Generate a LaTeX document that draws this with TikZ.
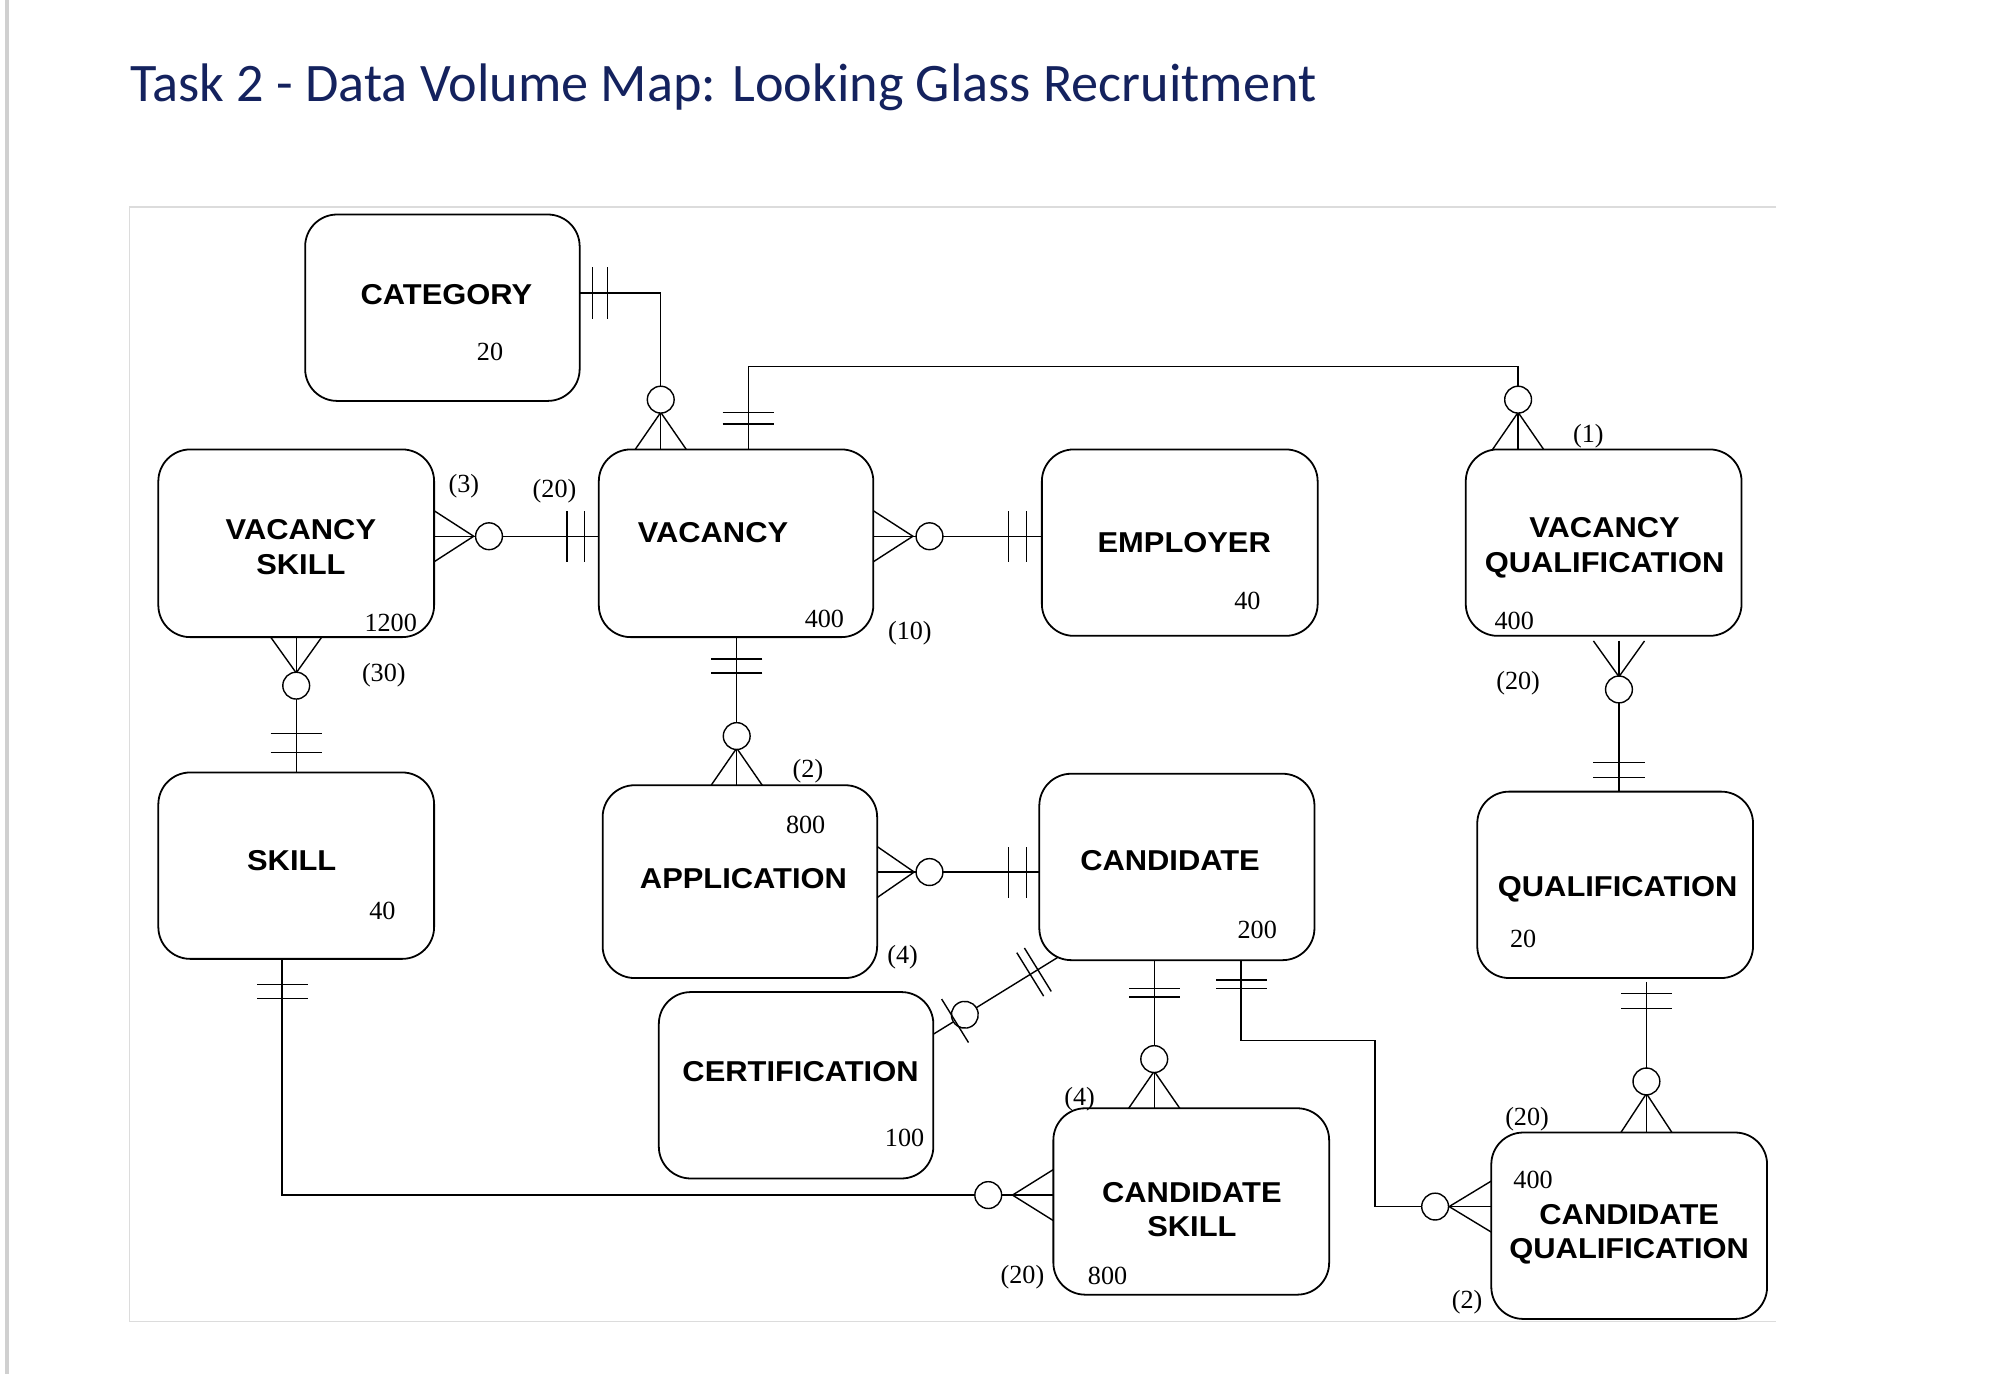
\documentclass[tikz,border=0pt]{standalone}
\usepackage{fontspec}
\setmainfont{Liberation Serif}
\newfontfamily\entfont{Liberation Sans}[FakeStretch=1.075]
\newfontfamily\titlefont{Carlito}
\usetikzlibrary{calc}
\definecolor{titleblue}{HTML}{14225E}
\definecolor{framegray}{HTML}{DCDCDC}
\definecolor{edgegray}{HTML}{D0D0D0}
\tikzset{
  ent/.style={draw, rounded corners=25pt, line width=1.4pt, minimum width=216pt, minimum height=146pt, inner sep=0pt, outer sep=0pt, anchor=north west},
  enttext/.style={font=\entfont\bfseries\fontsize{22.5}{27}\selectfont, inner sep=0pt, anchor=base},
  vol/.style={font=\fontsize{20.5}{24}\selectfont, inner sep=0pt},
  conn/.style={line width=1.1pt},
  pics/crowO/.style 2 args={code={
    \draw[conn] (0,-20) -- (#1,0) -- (0,20);
    \draw[conn] (0,0) -- (#2,0);
    \draw[conn,fill=white] (#2,0) circle[radius=10.5];}},
  pics/bar/.style={code={\draw[conn] (#1,-20) -- (#1,20);}},
  pics/circ/.style={code={\draw[conn,fill=white] (#1,0) circle[radius=10.5];}},
}
\begin{document}
\begin{tikzpicture}[x=1pt,y=-1pt]
\useasboundingbox (0,0) rectangle (1568,1076);
% page edge and frame
\draw[edgegray, line width=3pt] (5.5,0) -- (5.5,1076);
\draw[framegray, line width=1.2pt] (1391,162) -- (101.5,162) -- (101.5,1035) -- (1391,1035);
% title
\node[font=\titlefont\fontsize{42.5}{50}\selectfont, text=titleblue, anchor=base west, inner sep=0pt] (title) at (102,79.8) {Task 2 - Data Volume Map: Looking Glass Recruitment};

% entities
\node[ent, minimum width=215pt] (cat) at (239,168) {};
\node[ent, minimum height=147pt] (vs) at (124,352) {};
\node[ent, minimum width=215pt, minimum height=147pt] (vac) at (469,352) {};
\node[ent] (emp) at (816,352) {};
\node[ent] (vq) at (1148,352) {};
\node[ent] (skill) at (124,605) {};
\node[ent, minimum width=215pt, minimum height=151pt] (app) at (472,615) {};
\node[ent, minimum width=215.5pt] (cand) at (814,606) {};
\node[ent] (qual) at (1157,620) {};
\node[ent, minimum width=215pt] (cert) at (516,777) {};
\node[ent] (cs) at (825,868) {};
\node[ent] (cq) at (1168,887) {};

% entity names
\node[enttext] (tcat) at (349.6,238.6) {CATEGORY};
\node[enttext] (tvs1) at (235.7,422.7) {VACANCY};
\node[enttext] (tvs2) at (235.7,450.1) {SKILL};
\node[enttext] (tvac) at (558.4,424.5) {VACANCY};
\node[enttext] (temp) at (927.5,432.9) {EMPLOYER};
\node[enttext] (tvq1) at (1256.7,420.6) {VACANCY};
\node[enttext] (tvq2) at (1256.7,448.1) {QUALIFICATION};
\node[enttext] (tskill) at (228.5,682.1) {SKILL};
\node[enttext] (tapp) at (582.3,696.1) {APPLICATION};
\node[enttext] (tcand) at (916.4,682.1) {CANDIDATE};
\node[enttext] (tqual) at (1267,701.8) {QUALIFICATION};
\node[enttext] (tcert) at (627,846.9) {CERTIFICATION};
\node[enttext] (tcs1) at (933.5,942.1) {CANDIDATE};
\node[enttext] (tcs2) at (933.5,968.8) {SKILL};
\node[enttext] (tcq1) at (1276,959.1) {CANDIDATE};
\node[enttext] (tcq2) at (1276,985.8) {QUALIFICATION};

% volumes and cardinalities
\node[vol] (n1) at (383.8,275.4) {20};
\node[vol] (n2) at (306,487.7) {1200};
\node[vol] (n3) at (645.7,484.8) {400};
\node[vol] (n4) at (363.3,381) {(3)};
\node[vol] (n5) at (434.3,384.6) {(20)};
\node[vol] (n6) at (977,471) {40};
\node[vol] (n7) at (1186,486.6) {400};
\node[vol] (n8) at (712.6,495.9) {(10)};
\node[vol] (n9) at (1244,342) {(1)};
\node[vol] (n10) at (300.6,528.7) {(30)};
\node[vol] (n11) at (632.8,604.4) {(2)};
\node[vol] (n12) at (631,646.2) {800};
\node[vol] (n13) at (299.5,713.3) {40};
\node[vol] (n14) at (984.7,728.4) {200};
\node[vol] (n15) at (1189,534.7) {(20)};
\node[vol] (n16) at (1193,735) {20};
\node[vol] (n17) at (707,749.3) {(4)};
\node[vol] (n18) at (708.5,891.6) {100};
\node[vol] (n19) at (845.6,860.8) {(4)};
\node[vol] (n20) at (800.8,1000) {(20)};
\node[vol] (n21) at (867.5,999.4) {800};
\node[vol] (n22) at (1196,876.7) {(20)};
\node[vol] (n23) at (1200.7,924) {400};
\node[vol] (n24) at (1149,1020) {(2)};

% 1 CATEGORY - VACANCY
\draw[conn] ($(cat.north west)+(215,61.5)$) -| ($(vac.north west)+(48.5,0)$);
\pic at ($(cat.north west)+(215,61.5)$) {bar=10};
\pic at ($(cat.north west)+(215,61.5)$) {bar=22};
\pic[rotate=90] at ($(vac.north west)+(48.5,0)$) {crowO={29}{39}};

% 2 VACANCY - VACANCY QUALIFICATION
\draw[conn] ($(vac.north west)+(117,0)$) |- ($(vq.north west)+(41,-65)$) -- ($(vq.north west)+(41,0)$);
\pic[rotate=90] at ($(vac.north west)+(117,0)$) {bar=20};
\pic[rotate=90] at ($(vac.north west)+(117,0)$) {bar=29};
\pic[rotate=90] at ($(vq.north west)+(41,0)$) {crowO={29}{39}};

% 3 VACANCY SKILL - VACANCY
\draw[conn] ($(vs.north west)+(216,68)$) -- ($(vac.north west)+(0,68)$);
\pic at ($(vs.north west)+(216,68)$) {crowO={31}{43}};
\pic[rotate=180] at ($(vac.north west)+(0,68)$) {bar=11};
\pic[rotate=180] at ($(vac.north west)+(0,68)$) {bar=25};

% 4 VACANCY - EMPLOYER
\draw[conn] ($(vac.north west)+(215,68)$) -- ($(emp.north west)+(0,68)$);
\pic at ($(vac.north west)+(215,68)$) {crowO={31}{44}};
\pic[rotate=180] at ($(emp.north west)+(0,68)$) {bar=12};
\pic[rotate=180] at ($(emp.north west)+(0,68)$) {bar=26};

% 5 VACANCY - APPLICATION
\draw[conn] ($(vac.north west)+(108,147)$) -- ($(app.north west)+(105,0)$);
\pic[rotate=-90] at ($(vac.north west)+(108,147)$) {bar=17};
\pic[rotate=-90] at ($(vac.north west)+(108,147)$) {bar=28};
\pic[rotate=90] at ($(app.north west)+(105,0)$) {crowO={29}{38.5}};

% 6 VACANCY SKILL - SKILL
\draw[conn] ($(vs.north west)+(108,147)$) -- ($(skill.north west)+(108,0)$);
\pic[rotate=-90] at ($(vs.north west)+(108,147)$) {crowO={28}{38}};
\pic[rotate=90] at ($(skill.north west)+(108,0)$) {bar=15.5};
\pic[rotate=90] at ($(skill.north west)+(108,0)$) {bar=30.5};

% 7 SKILL - CANDIDATE SKILL
\draw[conn] ($(skill.north west)+(97,146)$) |- ($(cs.north west)+(0,68)$);
\pic[rotate=-90] at ($(skill.north west)+(97,146)$) {bar=20};
\pic[rotate=-90] at ($(skill.north west)+(97,146)$) {bar=31};
\pic[rotate=180] at ($(cs.north west)+(0,68)$) {crowO={32}{51}};

% 8 CANDIDATE - CANDIDATE SKILL
\draw[conn] ($(cand.north west)+(90,146)$) -- ($(cs.north west)+(79,0)$);
\pic[rotate=-90] at ($(cand.north west)+(90,146)$) {bar=22};
\pic[rotate=-90] at ($(cand.north west)+(90,146)$) {bar=29};
\pic[rotate=90] at ($(cs.north west)+(79,0)$) {crowO={29}{38.5}};

% 9 CANDIDATE - CANDIDATE QUALIFICATION
\draw[conn] ($(cand.north west)+(158,146)$) |- ($(cq.north west)+(-91,-72)$) |- ($(cq.north west)+(0,58)$);
\pic[rotate=-90] at ($(cand.north west)+(158,146)$) {bar=15.5};
\pic[rotate=-90] at ($(cand.north west)+(158,146)$) {bar=22};
\pic[rotate=180] at ($(cq.north west)+(0,58)$) {crowO={33}{44}};

% 10 VACANCY QUALIFICATION - QUALIFICATION
\draw[conn] ($(vq.north west)+(120,150)$) -- ($(qual.north west)+(111,0)$);
\pic[rotate=-90] at ($(vq.north west)+(120,150)$) {crowO={28}{38}};
\pic[rotate=90] at ($(qual.north west)+(111,0)$) {bar=11};
\pic[rotate=90] at ($(qual.north west)+(111,0)$) {bar=23};

% 11 QUALIFICATION - CANDIDATE QUALIFICATION
\draw[conn] ($(qual.north west)+(132.5,149)$) -- ($(cq.north west)+(121.5,0)$);
\pic[rotate=-90] at ($(qual.north west)+(132.5,149)$) {bar=9};
\pic[rotate=-90] at ($(qual.north west)+(132.5,149)$) {bar=21};
\pic[rotate=90] at ($(cq.north west)+(121.5,0)$) {crowO={30.5}{40}};

% 12 APPLICATION - CANDIDATE
\draw[conn] ($(app.north west)+(215,68)$) -- ($(cand.north west)+(0,77)$);
\pic at ($(app.north west)+(215,68)$) {crowO={29}{41}};
\pic[rotate=180] at ($(cand.north west)+(0,77)$) {bar=10};
\pic[rotate=180] at ($(cand.north west)+(0,77)$) {bar=24};

% 13 CERTIFICATION - CANDIDATE (diagonal)
\coordinate (d1) at ($(cert.north west)+(215,33)$);
\coordinate (d2) at ($(cand.north west)+(15,143.5)$);
\draw[conn] (d1) -- (d2);
\pic[rotate=31.7] at (d1) {circ=29};
\pic[rotate=31.7] at (d1) {bar=20};
\pic[rotate=211.7] at (d2) {bar=19};
\pic[rotate=211.7] at (d2) {bar=26};
\end{tikzpicture}
\end{document}
